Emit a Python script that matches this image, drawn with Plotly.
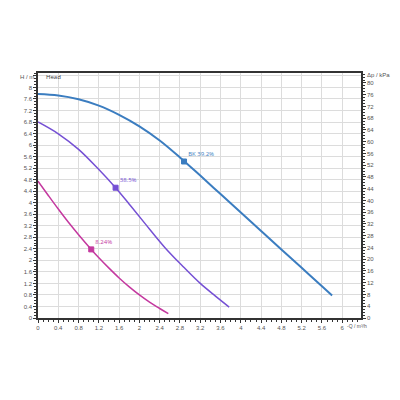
import plotly.graph_objects as go

# pump curves: flow Q (m3/h) vs head H (m)
q_max = [0, 0.4, 0.8, 1.2, 1.6, 2.0, 2.4, 2.8, 3.2, 3.6, 4.0, 4.4, 4.8, 5.2, 5.6, 5.8]
h_max = [7.77, 7.72, 7.59, 7.37, 7.05, 6.65, 6.16, 5.57, 4.94, 4.30, 3.66, 3.02, 2.38, 1.74, 1.10, 0.78]

q_mid = [0, 0.4, 0.8, 1.2, 1.53, 1.8, 2.1, 2.5, 2.87, 3.2, 3.5, 3.77]
h_mid = [6.8, 6.39, 5.85, 5.15, 4.52, 3.95, 3.3, 2.45, 1.77, 1.2, 0.76, 0.38]

q_low = [0, 0.2, 0.4, 0.6, 0.8, 1.05, 1.2, 1.4, 1.6, 1.8, 2.0, 2.2, 2.4, 2.57]
h_low = [4.75, 4.26, 3.78, 3.32, 2.89, 2.38, 2.09, 1.73, 1.39, 1.08, 0.80, 0.55, 0.33, 0.15]

# operating point markers
pt_q = [2.88, 1.53, 1.05]
pt_h = [5.43, 4.52, 2.38]
pt_labels = ["BK 39.2%", "38.5%", "8.24%"]

# left axis ticks (top tick left unlabelled, the axis title sits there)
h_ticks = [0, 0.4, 0.8, 1.2, 1.6, 2, 2.4, 2.8, 3.2, 3.6, 4, 4.4, 4.8, 5.2, 5.6, 6,
           6.4, 6.8, 7.2, 7.6, 8, 8.4]
h_ticktext = ["0", "0.4", "0.8", "1.2", "1.6", "2", "2.4", "2.8", "3.2", "3.6", "4", "4.4",
              "4.8", "5.2", "5.6", "6", "6.4", "6.8", "7.2", "7.6", "8", ""]

colors = ["#3b7dc0", "#7550d4", "#c4389f"]
h_range_max = 8.5
rho_g = 9.81  # kPa per m of water

fig = go.Figure()
curves = [(q_max, h_max, 2), (q_mid, h_mid, 1.5), (q_low, h_low, 1.5)]
for i, (q, h, w) in enumerate(curves):
    fig.add_trace(go.Scatter(
        x=q, y=h, mode="lines", line=dict(color=colors[i], width=w, shape="spline"),
        showlegend=False, hoverinfo="skip"))
    fig.add_trace(go.Scatter(
        x=[pt_q[i]], y=[pt_h[i]], mode="markers+text", text=[pt_labels[i]],
        textposition="top right", textfont=dict(size=6, color=colors[i]),
        marker=dict(symbol="square", size=5, color=colors[i],
                    line=dict(color=colors[i], width=1)),
        showlegend=False))

# dummy trace for the right-hand pressure axis
fig.add_trace(go.Scatter(x=[0], y=[0], yaxis="y2", mode="markers",
                         marker=dict(opacity=0), showlegend=False, hoverinfo="skip"))

tickfont = dict(size=6, color="#555", family="Arial, Liberation Sans, sans-serif")
# the page body adds an 8px offset, margins compensate for it
fig.update_layout(
    width=400, height=400,
    margin=dict(l=30, r=47, t=65, b=90),
    paper_bgcolor="white", plot_bgcolor="white",
    xaxis=dict(
        range=[0, 6.37], tick0=0, dtick=0.4, showgrid=True, gridcolor="#dcdcdc", gridwidth=1,
        zeroline=False, showline=True, linecolor="#333", linewidth=1.5, mirror=True,
        ticks="outside", ticklen=3, tickcolor="#333", tickfont=tickfont,
        minor=dict(dtick=0.1, ticks="outside", ticklen=2, tickcolor="#333", showgrid=False)),
    yaxis=dict(
        range=[0, h_range_max], tickmode="array", tickvals=h_ticks, ticktext=h_ticktext,
        showgrid=True, gridcolor="#dcdcdc", gridwidth=1,
        zeroline=False, showline=True, linecolor="#333", linewidth=1.5,
        ticks="outside", ticklen=3, tickcolor="#333", tickfont=tickfont,
        minor=dict(dtick=0.1, ticks="outside", ticklen=2, tickcolor="#333", showgrid=False)),
    yaxis2=dict(
        range=[0, h_range_max * rho_g], overlaying="y", side="right", tick0=0, dtick=4,
        showgrid=False, zeroline=False, showline=True, linecolor="#333", linewidth=1.5,
        ticks="outside", ticklen=3, tickcolor="#333", tickfont=tickfont,
        minor=dict(dtick=1, ticks="outside", ticklen=2, tickcolor="#333", showgrid=False)),
    annotations=[
        dict(text="H / m", xref="paper", yref="paper", x=0, y=1, xanchor="right", yanchor="middle",
             xshift=-2, yshift=-4, showarrow=False, font=tickfont),
        dict(text="Head", xref="paper", yref="paper", x=0, y=1, xanchor="left", yanchor="middle",
             xshift=6, yshift=-4, showarrow=False, font=dict(size=6, color="#333")),
        dict(text="Δp / kPa", xref="paper", yref="paper", x=1, y=1, xanchor="left", yanchor="middle",
             xshift=4, yshift=-2, showarrow=False, font=tickfont),
        dict(text="-Q / m³/h", xref="x", yref="paper", x=6.0, y=0, xanchor="left", yanchor="top",
             xshift=3, yshift=-3, showarrow=False,
             font=dict(size=5, color="#555", family="Arial, Liberation Sans, sans-serif")),
    ],
)

fig.write_html("out.html")
